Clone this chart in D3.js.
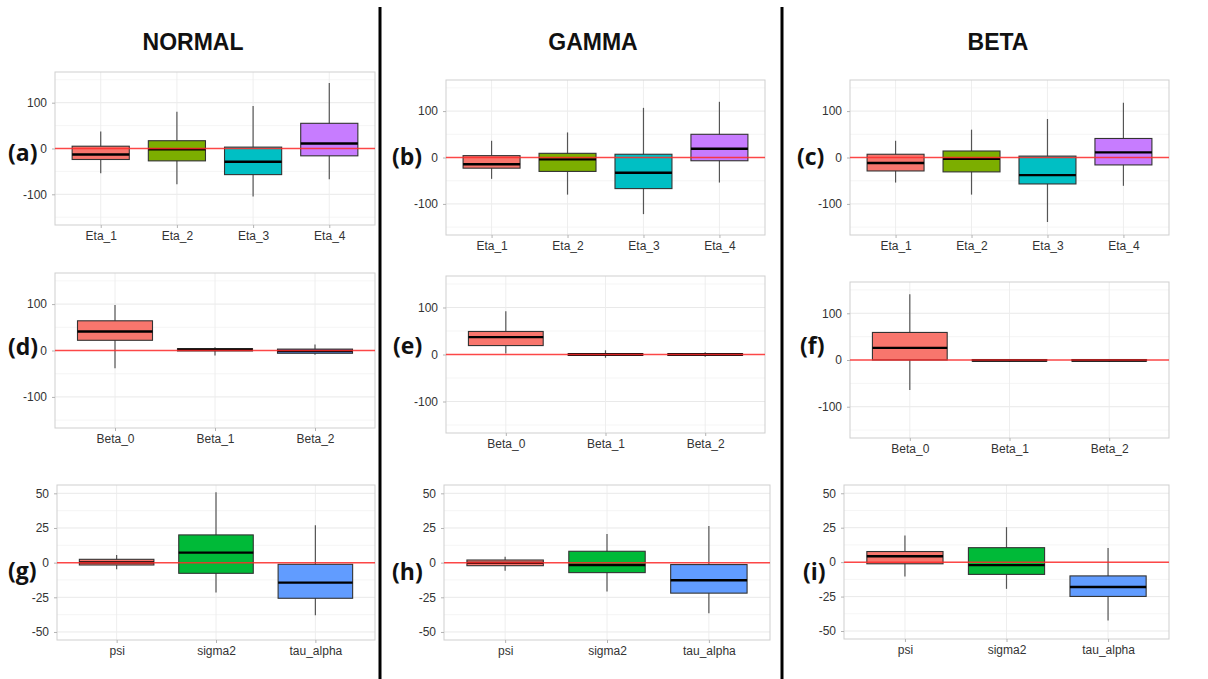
<!DOCTYPE html>
<html>
<head>
<meta charset="utf-8">
<script src="https://cdn.jsdelivr.net/npm/d3@7"></script>
<style>
  body { margin: 0; background: #fff; }
  svg { display: block; }
</style>
</head>
<body>
<div id="chart"></div>
<script>
// categories
const etaCats = ["Eta_1", "Eta_2", "Eta_3", "Eta_4"];
const betaCats = ["Beta_0", "Beta_1", "Beta_2"];
const varCats = ["psi", "sigma2", "tau_alpha"];

// box stats per category: [lower whisker, Q1, median, Q3, upper whisker]
const normalEta = [[-54, -24, -13, 5, 37], [-78, -27, -1.5, 17, 80], [-105, -57, -29, 3, 93], [-67, -16, 11, 55, 143]];
const gammaEta = [[-46, -23, -14.5, 4, 36], [-80, -30, -4, 9, 54], [-122, -67, -33, 7, 107], [-54, -7, 19, 50, 120]];
const betaEta = [[-54, -29, -12, 7, 36], [-80, -31, -3, 14, 60], [-139, -57, -38, 3, 83], [-61, -16, 11, 41, 118]];

const normalBeta = [[-38, 22, 41, 64, 98], [-11, -1, 1.5, 4, 7], [-9, -6, -1, 3, 13]];
const gammaBeta = [[2, 19, 37, 49, 92], [-7, -2, 0, 2, 9], [-5, -2, 0, 2, 5]];
const betaBeta = [[-64, 0, 26, 59, 141], [-3, -2, -1, 1, 2], [-3, -2, -1, 1, 2]];

const normalVar = [[-4.8, -1.7, 0.2, 2.4, 5.5], [-21.6, -7.7, 7.2, 20, 50.7], [-38, -25.7, -14.4, -1.2, 27]];
const gammaVar = [[-5.8, -2.2, -0.2, 1.9, 4.3], [-20.9, -7.2, -1.7, 8.2, 20.7], [-36.5, -22, -12.7, -1.4, 26.4]];
const betaVar = [[-10.5, -1.2, 4.3, 7.7, 19.4], [-19.4, -8.9, -2.2, 10.5, 25.4], [-42.4, -24.9, -18, -10, 10.3]];

// tick labels
const bigTicks = [-100, 0, 100];
const smallTicks = [-50, -25, 0, 25, 50];

// fills
const etaColors = ["#F8766D", "#7CAE00", "#00BFC4", "#C77CFF"];
const betaColorsNormal = ["#F8766D", "#00BA38", "#619CFF"];
const betaColorsOther = ["#F8766D", "#F8766D", "#F8766D"];
const varColors = ["#F8766D", "#00BA38", "#619CFF"];

const columnTitles = ["NORMAL", "GAMMA", "BETA"];

const width = 1208, height = 679;

const svg = d3.select("#chart").append("svg")
  .attr("width", width)
  .attr("height", height);

svg.append("rect").attr("width", width).attr("height", height).attr("fill", "#fff");

// panel layout (pixel boxes) + what data goes in them
const panels = [
  { tag: "(a)", x0: 55, x1: 375, y0: 72, y1: 225, cats: etaCats, stats: normalEta, colors: etaColors, dom: [-167, 167], ticks: bigTicks, lx: 8, ly: 161 },
  { tag: "(b)", x0: 446, x1: 765, y0: 80, y1: 235, cats: etaCats, stats: gammaEta, colors: etaColors, dom: [-167, 167], ticks: bigTicks, lx: 392, ly: 165 },
  { tag: "(c)", x0: 850, x1: 1169, y0: 80, y1: 235, cats: etaCats, stats: betaEta, colors: etaColors, dom: [-167, 167], ticks: bigTicks, lx: 797, ly: 165 },
  { tag: "(d)", x0: 55, x1: 375, y0: 273, y1: 428, cats: betaCats, stats: normalBeta, colors: betaColorsNormal, dom: [-167, 167], ticks: bigTicks, lx: 8, ly: 355 },
  { tag: "(e)", x0: 446, x1: 765, y0: 276, y1: 433, cats: betaCats, stats: gammaBeta, colors: betaColorsOther, dom: [-167, 167], ticks: bigTicks, lx: 393, ly: 354 },
  { tag: "(f)", x0: 850, x1: 1169, y0: 282, y1: 438, cats: betaCats, stats: betaBeta, colors: betaColorsOther, dom: [-167, 167], ticks: bigTicks, lx: 800, ly: 354 },
  { tag: "(g)", x0: 57, x1: 375, y0: 485, y1: 640, cats: varCats, stats: normalVar, colors: varColors, dom: [-55.8, 56], ticks: smallTicks, lx: 8, ly: 579 },
  { tag: "(h)", x0: 444, x1: 770, y0: 485, y1: 640, cats: varCats, stats: gammaVar, colors: varColors, dom: [-55.8, 56], ticks: smallTicks, lx: 392, ly: 580 },
  { tag: "(i)", x0: 844, x1: 1169, y0: 485, y1: 639, cats: varCats, stats: betaVar, colors: varColors, dom: [-55.8, 56], ticks: smallTicks, lx: 803, ly: 580 }
];

panels.forEach(function(p) {
  const g = svg.append("g");

  // ggplot-ish discrete scale: 0.6 unit padding each side
  const x = d3.scalePoint().domain(p.cats).range([p.x0, p.x1]).padding(0.6);
  const y = d3.scaleLinear().domain(p.dom).range([p.y1, p.y0]);
  const boxW = x.step() * 0.75;

  // minor grid (midpoints between major ticks)
  const step = p.ticks[1] - p.ticks[0];
  const minor = d3.range(Math.ceil(p.dom[0] / step) * step - step / 2, p.dom[1], step)
    .filter(v => v > p.dom[0] && v < p.dom[1]);
  g.selectAll(".minor").data(minor).enter().append("line")
    .attr("x1", p.x0).attr("x2", p.x1)
    .attr("y1", d => y(d)).attr("y2", d => y(d))
    .attr("stroke", "#f2f2f2").attr("stroke-width", 0.8);

  // major grid
  g.selectAll(".major").data(p.ticks).enter().append("line")
    .attr("x1", p.x0).attr("x2", p.x1)
    .attr("y1", d => y(d)).attr("y2", d => y(d))
    .attr("stroke", "#e6e6e6").attr("stroke-width", 0.9);
  g.selectAll(".vgrid").data(p.cats).enter().append("line")
    .attr("x1", d => x(d)).attr("x2", d => x(d))
    .attr("y1", p.y0).attr("y2", p.y1)
    .attr("stroke", "#ececec").attr("stroke-width", 0.9);

  // border
  g.append("rect")
    .attr("x", p.x0).attr("y", p.y0)
    .attr("width", p.x1 - p.x0).attr("height", p.y1 - p.y0)
    .attr("fill", "none").attr("stroke", "#cfcfcf").attr("stroke-width", 1);

  // axes (plain hyphen for negatives, like the original)
  const yAxis = g.append("g")
    .attr("transform", `translate(${p.x0},0)`)
    .call(d3.axisLeft(y).tickValues(p.ticks).tickSize(3).tickPadding(5).tickFormat(d => String(d)));
  const xAxis = g.append("g")
    .attr("transform", `translate(0,${p.y1})`)
    .call(d3.axisBottom(x).tickSize(3).tickPadding(3));
  [yAxis, xAxis].forEach(function(ax) {
    ax.select(".domain").remove();
    ax.selectAll(".tick line").attr("stroke", "#b3b3b3");
    ax.selectAll(".tick text")
      .attr("fill", "#333")
      .style("font-family", "'Liberation Sans', Arial, sans-serif")
      .style("font-size", "12px");
  });

  const boxes = g.selectAll(".box").data(p.stats).enter().append("g")
    .attr("transform", (d, i) => `translate(${x(p.cats[i])},0)`);

  // whiskers
  boxes.append("line")
    .attr("x1", 0).attr("x2", 0)
    .attr("y1", d => y(d[0])).attr("y2", d => y(d[4]))
    .attr("stroke", "#555").attr("stroke-width", 1.2);

  boxes.append("rect")
    .attr("x", -boxW / 2).attr("width", boxW)
    .attr("y", d => y(d[3]))
    .attr("height", d => Math.max(1, y(d[1]) - y(d[3])))
    .attr("fill", (d, i) => p.colors[i])
    .attr("stroke", "#333").attr("stroke-width", 1.1);

  boxes.append("line")
    .attr("x1", -boxW / 2).attr("x2", boxW / 2)
    .attr("y1", d => y(d[2])).attr("y2", d => y(d[2]))
    .attr("stroke", "#000").attr("stroke-width", 2.4);

  // red reference line at zero
  g.append("line")
    .attr("x1", p.x0).attr("x2", p.x1)
    .attr("y1", y(0)).attr("y2", y(0))
    .attr("stroke", "#ff2a2a").attr("stroke-width", 1.5).attr("stroke-opacity", 0.85);

  // panel tag
  svg.append("text")
    .attr("x", p.lx).attr("y", p.ly)
    .style("font-family", "'Open Sans', 'DejaVu Sans', sans-serif")
    .style("font-weight", 700)
    .style("font-size", "23px")
    .attr("fill", "#111")
    .text(p.tag);
});

// column titles
const titleX = [193, 593, 998];
svg.selectAll(".coltitle").data(columnTitles).enter().append("text")
  .attr("x", (d, i) => titleX[i]).attr("y", 50)
  .attr("text-anchor", "middle")
  .style("font-family", "'Liberation Sans', Arial, sans-serif")
  .style("font-weight", 700)
  .style("font-size", "23px")
  .attr("fill", "#111")
  .text(d => d);

// column dividers
[380, 782].forEach(function(xx) {
  svg.append("line")
    .attr("x1", xx).attr("x2", xx)
    .attr("y1", 7).attr("y2", height)
    .attr("stroke", "#000").attr("stroke-width", 3);
});
</script>
</body>
</html>
